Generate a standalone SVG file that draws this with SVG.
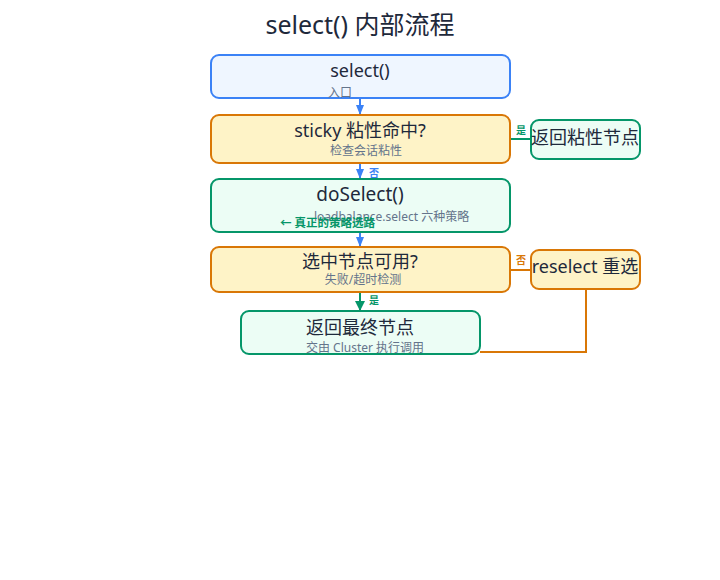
<svg xmlns="http://www.w3.org/2000/svg" width="720" height="580" viewBox="0 0 720 580">
<defs>
<marker id="ab" viewBox="0 0 10 10" refX="9" refY="5" markerWidth="5" markerHeight="5" orient="auto"><path d="M0,1 L10,5 L0,9 z" fill="#3b82f6"/></marker>
<marker id="ag" viewBox="0 0 10 10" refX="9" refY="5" markerWidth="5" markerHeight="5" orient="auto"><path d="M0,0 L10,5 L0,10 z" fill="#059669"/></marker>
</defs>
<style>
text{font-family:"Noto Sans","Noto Sans CJK SC",sans-serif;}
.t{font-size:18px;fill:#1e293b;}
.s{font-size:12px;fill:#64748b;}
.blue{fill:#eff6ff;stroke:#3b82f6;stroke-width:2;}
.amb{fill:#fef3c7;stroke:#d97706;stroke-width:2;}
.grn{fill:#ecfdf5;stroke:#059669;stroke-width:2;}
.lb{font-size:10px;font-weight:bold;}
</style>
<rect width="720" height="580" fill="#ffffff"/>
<text x="360" y="34" text-anchor="middle" style="font-size:25px;fill:#1e293b">select() 内部流程</text>
<g id="connectors" fill="none">
<line x1="360" y1="98" x2="360" y2="114" stroke="#3b82f6" stroke-width="2" marker-end="url(#ab)"/>
<line x1="510" y1="139" x2="531" y2="139" stroke="#059669" stroke-width="2"/>
<text x="521" y="134" text-anchor="middle" class="lb" fill="#059669" stroke="none">是</text>
<line x1="360" y1="163" x2="360" y2="178" stroke="#3b82f6" stroke-width="2" marker-end="url(#ab)"/>
<text x="369" y="177" class="lb" fill="#3b82f6" stroke="none">否</text>
<line x1="360" y1="232" x2="360" y2="246" stroke="#3b82f6" stroke-width="2" marker-end="url(#ab)"/>
<line x1="510" y1="270" x2="531" y2="270" stroke="#d97706" stroke-width="2"/>
<text x="521" y="264" text-anchor="middle" class="lb" fill="#d97706" stroke="none">否</text>
<polyline points="586,289 586,352 480,352" stroke="#d97706" stroke-width="2"/>
<line x1="360" y1="292" x2="360" y2="310" stroke="#059669" stroke-width="2" marker-end="url(#ag)"/>
<text x="369" y="304" class="lb" fill="#059669" stroke="none">是</text>
</g>
<g id="n-select">
<rect x="211" y="55" width="299" height="43" rx="8" class="blue"/>
<text x="360" y="77" text-anchor="middle" class="t">select()</text>
<text x="328" y="97" class="s">入口</text>
</g>
<g id="n-sticky">
<rect x="211" y="115" width="299" height="48" rx="8" class="amb"/>
<text x="360" y="137" text-anchor="middle" class="t">sticky 粘性命中?</text>
<text x="366" y="155" text-anchor="middle" class="s">检查会话粘性</text>
</g>
<g id="n-stickyret">
<rect x="531" y="120" width="109" height="39" rx="8" class="grn"/>
<text x="585" y="144" text-anchor="middle" class="t">返回粘性节点</text>
</g>
<g id="n-doselect">
<rect x="211" y="179" width="299" height="53" rx="8" class="grn"/>
<text x="360" y="201" text-anchor="middle" style="font-size:19px;fill:#1e293b">doSelect()</text>
<text x="314" y="221" class="s">loadbalance.select 六种策略</text>
<text x="280" y="227" class="lb" style="font-size:11.5px" fill="#059669">← 真正的策略选路</text>
</g>
<g id="n-avail">
<rect x="211" y="247" width="299" height="45" rx="8" class="amb"/>
<text x="360" y="268" text-anchor="middle" class="t">选中节点可用?</text>
<text x="363" y="284" text-anchor="middle" class="s">失败/超时检测</text>
</g>
<g id="n-reselect">
<rect x="531" y="250" width="109" height="39" rx="8" class="amb"/>
<text x="585" y="273" text-anchor="middle" class="t">reselect 重选</text>
</g>
<g id="n-final">
<rect x="241" y="311" width="239" height="43" rx="8" class="grn"/>
<text x="360" y="334" text-anchor="middle" class="t">返回最终节点</text>
<text x="365" y="352" text-anchor="middle" class="s">交由 Cluster 执行调用</text>
</g>
</svg>
